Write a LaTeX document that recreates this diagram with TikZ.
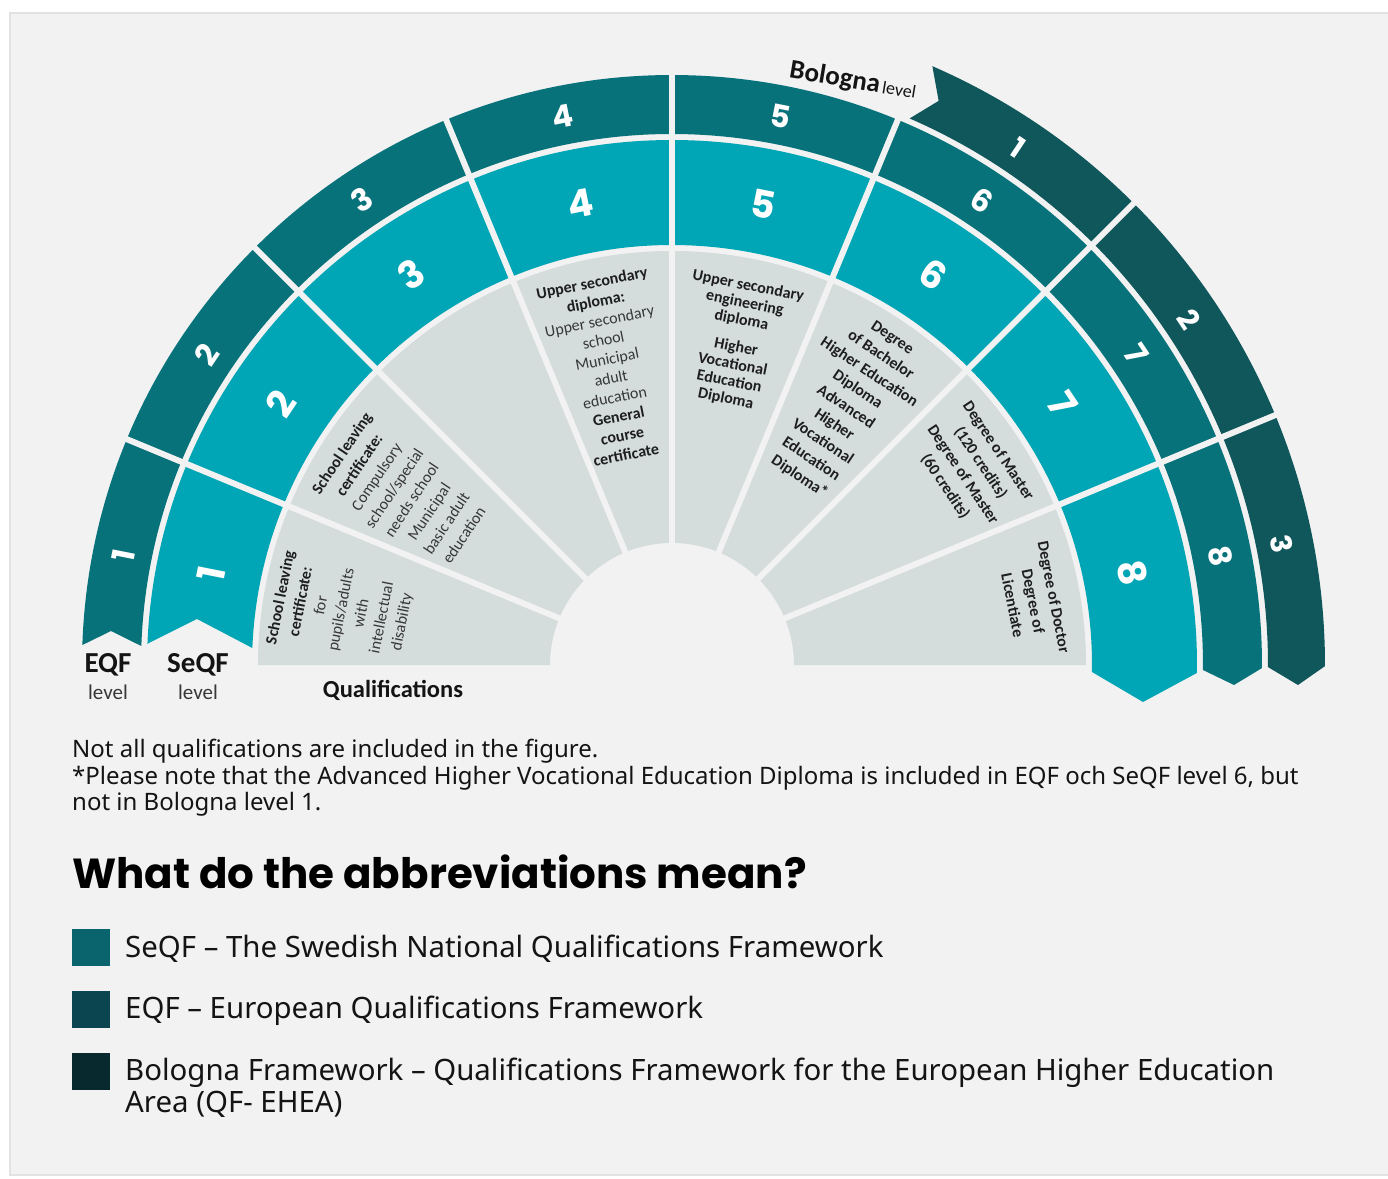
\documentclass[tikz,border=0pt]{standalone}
\usepackage{fontspec}
\setmainfont{Noto Sans}
\newfontfamily\carl{Carlito}
\newfontfamily\pop{Poppins}
\definecolor{bg}{RGB}{242,242,242}
\definecolor{panelborder}{RGB}{226,226,226}
\definecolor{seqf}{RGB}{0,166,181}
\definecolor{eqf}{RGB}{8,114,122}
\definecolor{bolo}{RGB}{16,87,92}
\definecolor{qgray}{RGB}{212,220,220}
\definecolor{qtxt}{RGB}{55,55,55}
\definecolor{qbold}{RGB}{30,30,30}
\definecolor{legA}{RGB}{10,100,110}
\definecolor{legB}{RGB}{11,70,80}
\definecolor{legC}{RGB}{8,42,46}
\definecolor{txt}{RGB}{20,20,20}
\newcommand\qb[1]{\textcolor{qbold}{\textbf{#1}}}
\tikzset{
 sepline/.style={draw=bg, line width=6pt},
 numA/.style={text=white, font=\pop\bfseries\fontsize{38}{38}\selectfont, inner sep=0pt},
 numB/.style={text=white, font=\pop\bfseries\fontsize{31}{31}\selectfont, inner sep=0pt},
 numC/.style={text=white, font=\pop\bfseries\fontsize{29}{29}\selectfont, inner sep=0pt},
 qtext/.style={align=center, text=qtxt, inner sep=0pt},
 lvlbig/.style={text=txt, font=\carl\bfseries\fontsize{29}{29}\selectfont, inner sep=0pt},
 lvlsmall/.style={text=txt!85, font=\carl\fontsize{21}{21}\selectfont, inner sep=0pt},
 note/.style={text=txt, font=\fontsize{24}{24}\selectfont, inner sep=0pt, anchor=base west},
 legtext/.style={text=txt, font=\fontsize{29.4}{29.4}\selectfont, inner sep=0pt, anchor=base west},
}
\begin{document}
\begin{tikzpicture}[x=1pt,y=1pt]
\useasboundingbox (-672,-513) rectangle (716,665);
\fill[white] (-672,-513) rectangle (716,665);
\filldraw[fill=bg, draw=panelborder, line width=1.5pt] (-662,652) rectangle (725,-510);

% qualifications (gray) sector
\fill[qgray] (180:414pt) arc[start angle=180, end angle=0, radius=414pt] -- (0:122pt) arc[start angle=0, end angle=180, radius=122pt] -- cycle;
% SeQF ribbon
\fill[seqf] (-525,21) -- (-475,46) -- (177.68:420pt) arc[start angle=177.68, end angle=-0.95, radius=420pt] -- (471,-37) -- (-0.87:525pt) arc[start angle=-0.87, end angle=177.7, radius=525pt] -- cycle;
% EQF ribbon
\fill[eqf] (178.06:590pt) -- (-561,34) -- (177.95:531pt) arc[start angle=177.95, end angle=-0.54, radius=531pt] -- (562,-20) -- (-0.3:590pt) arc[start angle=-0.3, end angle=178.06, radius=590pt] -- cycle;
% Bologna ribbon
\fill[bolo] (66.5:596pt) -- (64.7:624pt) -- (66.5:653pt) arc[start angle=66.5, end angle=-0.1, radius=653pt] -- (626,-20) -- (-0.2:596pt) arc[start angle=-0.2, end angle=66.5, radius=596pt] -- cycle;
% separators
\coordinate (c) at (0,0);
\foreach \a in {157.5,135,112.5,90,67.5} \draw[sepline] (c) -- (\a:592pt);
\foreach \a in {45,22.5} \draw[sepline] (c) -- (\a:662pt);

% numbers
\foreach \a/\n in {168.75/1,146.25/2,123.75/3,101.25/4,78.75/5,56.25/6,33.75/7,11.25/8}
  \node[numA, rotate={\a-90}] (s\n) at (\a:470pt) {\n};
\foreach \a/\n in {168.75/1,146.25/2,123.75/3,101.25/4,78.75/5,56.25/6,33.75/7,11.25/8}
  \node[numB, rotate={\a-90}] (e\n) at (\a:559pt) {\n};
\foreach \a/\n in {56.25/1,33.75/2,11.25/3}
  \node[numC, rotate={\a-90}] (b\n) at (\a:622pt) {\n};

% qualification texts
\node[qtext, rotate=78.75, font=\carl\fontsize{16}{20.6}\selectfont] (q1) at (170.5:335pt)
 {\qb{School leaving}\\\qb{certificate:}\\for\\pupils/adults\\with\\intellectual\\disability};
\node[qtext, rotate=56.25, font=\carl\fontsize{16}{21}\selectfont] (q2) at (147.6:319pt)
 {\qb{School leaving}\\\qb{certificate:}\\Compulsory\\school/special\\needs school\\Municipal\\basic adult\\education};
\node[qtext, rotate=11.25, font=\carl\fontsize{16}{19.5}\selectfont] (q4) at (102:303pt)
 {\qb{Upper secondary}\\\qb{diploma:}\\Upper secondary\\school\\Municipal\\adult\\education\\\qb{General}\\\qb{course}\\\qb{certificate}};
\node[qtext, rotate=-11.25, font=\carl\fontsize{16}{17.5}\selectfont] (q5) at (78.6:329pt)
 {\qb{Upper secondary}\\\qb{engineering}\\\qb{diploma}\\[10pt]\qb{Higher}\\\qb{Vocational}\\\qb{Education}\\\qb{Diploma}};
\node[qtext, rotate=-33.75, font=\carl\fontsize{16}{20.9}\selectfont] (q6) at (56:310.5pt)
 {\qb{Degree}\\\qb{of Bachelor}\\\qb{Higher Education}\\\qb{Diploma}\\\qb{Advanced}\\\qb{Higher}\\\qb{Vocational}\\\qb{Education}\\\qb{Diploma*}};
\node[qtext, rotate=-56.25, font=\carl\fontsize{16}{21.3}\selectfont] (q7) at (33.2:358pt)
 {\qb{Degree of Master}\\\qb{(120 credits)}\\\qb{Degree of Master}\\\qb{(60 credits)}};
\node[qtext, rotate=-78.75, font=\carl\fontsize{16}{21}\selectfont] (q8) at (10:367pt)
 {\qb{Degree of Doctor}\\\qb{Degree of}\\\qb{Licentiate}};

% ring labels
\node[lvlbig] (eqft) at (-564,0) {EQF};
\node[lvlsmall] (eqfl) at (-564,-27) {level};
\node[lvlbig] (seqft) at (-474,0) {SeQF};
\node[lvlsmall] (seqfl) at (-474,-27) {level};
\node[text=txt, font=\carl\bfseries\fontsize{24.5}{24.5}\selectfont, inner sep=0pt] (qual) at (-279,-25) {Qualifications};
\node[text=txt, rotate=-9.5, inner sep=0pt] (bol) at (181,584) {{\carl\bfseries\fontsize{27}{27}\selectfont Bologna} {\carl\fontsize{18}{18}\selectfont level}};

% notes
\node[note] (n1) at (-600,-92) {Not all qualifications are included in the figure.};
\node[note] (n2) at (-600,-119) {*Please note that the Advanced Higher Vocational Education Diploma is included in EQF och SeQF level 6, but};
\node[note] (n3) at (-600,-145) {not in Bologna level 1.};

% heading
\node[text=black, font=\pop\bfseries\fontsize{42}{42}\selectfont, inner sep=0pt, anchor=base west] (head) at (-600,-223) {What do the abbreviations mean?};

% legend
\node[fill=legA, minimum width=38pt, minimum height=37pt, inner sep=0pt, anchor=north west] (la) at (-600,-264) {};
\node[fill=legB, minimum width=38pt, minimum height=37pt, inner sep=0pt, anchor=north west] (lb) at (-600,-326) {};
\node[fill=legC, minimum width=38pt, minimum height=37pt, inner sep=0pt, anchor=north west] (lc) at (-600,-388) {};
\node[legtext] (ta) at (-547,-292) {SeQF – The Swedish National Qualifications Framework};
\node[legtext] (tb) at (-547,-353) {EQF – European Qualifications Framework};
\node[legtext] (tc) at (-547,-415) {Bologna Framework – Qualifications Framework for the European Higher Education};
\node[legtext] (td) at (-547,-447) {Area (QF- EHEA)};
\end{tikzpicture}
\end{document}
